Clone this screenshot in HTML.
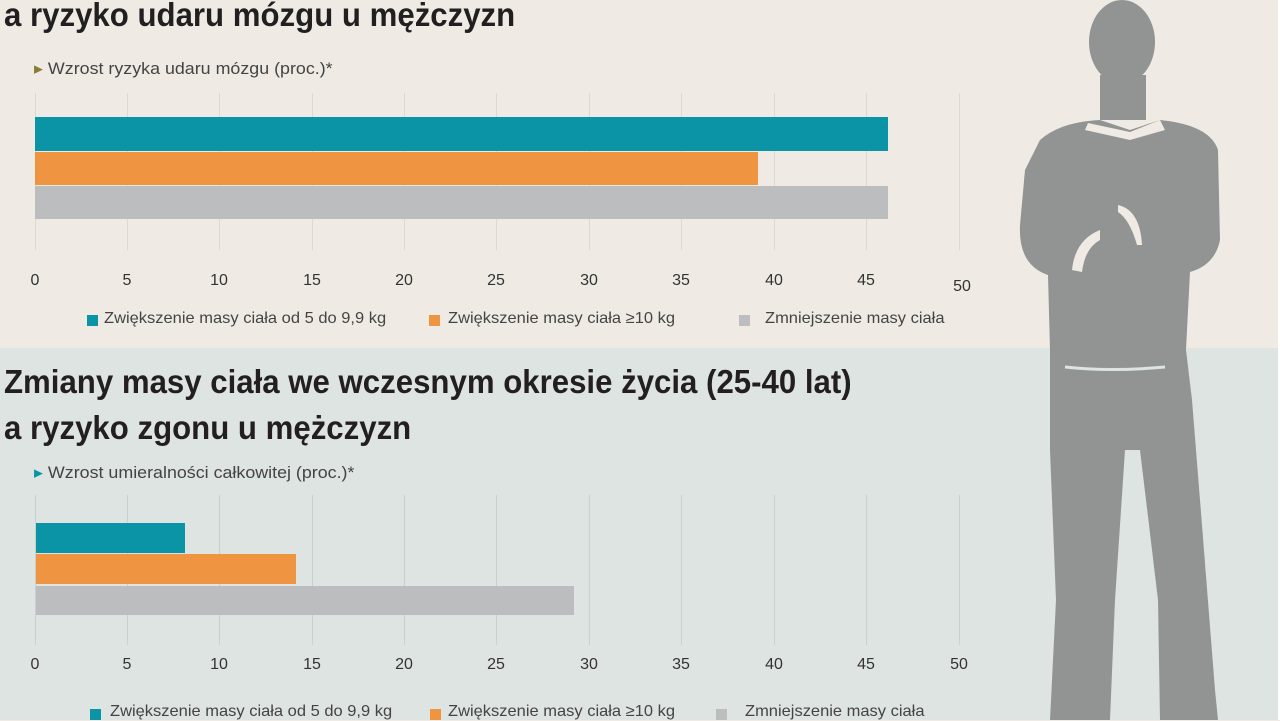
<!DOCTYPE html>
<html><head><meta charset="utf-8"><style>
body{margin:0;width:1280px;height:720px;overflow:hidden;position:relative;font-family:"Liberation Sans",sans-serif;background:#efebe4}
.a{position:absolute;white-space:nowrap}
.t{font-weight:bold;font-size:33px;color:#231f20;transform-origin:0 0;transform:scaleX(0.945)}
.s{font-size:17px;color:#444;transform-origin:0 0;transform:scaleX(1.05)}
.n{font-size:16px;color:#333;transform:translateX(-50%)}
.g{position:absolute;width:1px;background:#ddd8d0}
.b{position:absolute}
.l{font-size:16px;color:#444;transform-origin:0 0;transform:scaleX(1.03)}
.q{position:absolute;width:11px;height:11px}
</style></head><body>
<div class="a" style="left:0;top:348px;width:1280px;height:372px;background:#dde4e1"></div>
<div class="a" style="left:1278px;top:0;width:2px;height:720px;background:#fff"></div>

<div class="a t" style="left:4px;top:-4px">a ryzyko udaru mózgu u mężczyzn</div>
<div class="a s" style="left:34px;top:59px"><span style="color:#8a7a3a">▸</span> Wzrost ryzyka udaru mózgu (proc.)*</div>
<div class="g" style="left:35px;top:93px;height:157px"></div><div class="g" style="left:127px;top:93px;height:157px"></div><div class="g" style="left:219px;top:93px;height:157px"></div><div class="g" style="left:312px;top:93px;height:157px"></div><div class="g" style="left:404px;top:93px;height:157px"></div><div class="g" style="left:496px;top:93px;height:157px"></div><div class="g" style="left:589px;top:93px;height:157px"></div><div class="g" style="left:681px;top:93px;height:157px"></div><div class="g" style="left:774px;top:93px;height:157px"></div><div class="g" style="left:866px;top:93px;height:157px"></div><div class="g" style="left:959px;top:93px;height:157px"></div>
<div class="b" style="left:35px;top:117px;width:853px;height:34px;background:#0b93a6"></div>
<div class="b" style="left:35px;top:152px;width:723px;height:33px;background:#ef9440"></div>
<div class="b" style="left:35px;top:186px;width:853px;height:33px;background:#bcbdbf"></div>
<div class="a n" style="left:35px;top:272px">0</div><div class="a n" style="left:127px;top:272px">5</div><div class="a n" style="left:219px;top:272px">10</div><div class="a n" style="left:312px;top:272px">15</div><div class="a n" style="left:404px;top:272px">20</div><div class="a n" style="left:496px;top:272px">25</div><div class="a n" style="left:589px;top:272px">30</div><div class="a n" style="left:681px;top:272px">35</div><div class="a n" style="left:774px;top:272px">40</div><div class="a n" style="left:866px;top:272px">45</div><div class="a n" style="left:962px;top:278px">50</div>
<div class="q" style="left:87px;top:315px;background:#0b93a6"></div><div class="a l" style="left:104px;top:310px">Zwiększenie masy ciała od 5 do 9,9 kg</div>
<div class="q" style="left:429px;top:315px;background:#ef9440"></div><div class="a l" style="left:448px;top:310px">Zwiększenie masy ciała ≥10 kg</div>
<div class="q" style="left:739px;top:315px;background:#bcbdbf"></div><div class="a l" style="left:765px;top:310px">Zmniejszenie masy ciała</div>

<div class="a t" style="left:4px;top:363px">Zmiany masy ciała we wczesnym okresie życia (25-40 lat)</div>
<div class="a t" style="left:4px;top:409px">a ryzyko zgonu u mężczyzn</div>
<div class="a s" style="left:34px;top:463px"><span style="color:#0b93a6">▸</span> Wzrost umieralności całkowitej (proc.)*</div>
<div class="g" style="left:35px;top:495px;height:150px;background:#c9d1ce"></div><div class="g" style="left:127px;top:495px;height:150px;background:#c9d1ce"></div><div class="g" style="left:219px;top:495px;height:150px;background:#c9d1ce"></div><div class="g" style="left:312px;top:495px;height:150px;background:#c9d1ce"></div><div class="g" style="left:404px;top:495px;height:150px;background:#c9d1ce"></div><div class="g" style="left:496px;top:495px;height:150px;background:#c9d1ce"></div><div class="g" style="left:589px;top:495px;height:150px;background:#c9d1ce"></div><div class="g" style="left:681px;top:495px;height:150px;background:#c9d1ce"></div><div class="g" style="left:774px;top:495px;height:150px;background:#c9d1ce"></div><div class="g" style="left:866px;top:495px;height:150px;background:#c9d1ce"></div><div class="g" style="left:959px;top:495px;height:150px;background:#c9d1ce"></div>
<div class="b" style="left:36px;top:523px;width:149px;height:30px;background:#0b93a6"></div>
<div class="b" style="left:36px;top:554px;width:260px;height:30px;background:#ef9440"></div>
<div class="b" style="left:36px;top:586px;width:538px;height:29px;background:#bcbdbf"></div>
<div class="a n" style="left:35px;top:656px">0</div><div class="a n" style="left:127px;top:656px">5</div><div class="a n" style="left:219px;top:656px">10</div><div class="a n" style="left:312px;top:656px">15</div><div class="a n" style="left:404px;top:656px">20</div><div class="a n" style="left:496px;top:656px">25</div><div class="a n" style="left:589px;top:656px">30</div><div class="a n" style="left:681px;top:656px">35</div><div class="a n" style="left:774px;top:656px">40</div><div class="a n" style="left:866px;top:656px">45</div><div class="a n" style="left:959px;top:656px">50</div>
<div class="q" style="left:90px;top:709px;background:#0b93a6"></div><div class="a l" style="left:110px;top:703px">Zwiększenie masy ciała od 5 do 9,9 kg</div>
<div class="q" style="left:430px;top:709px;background:#ef9440"></div><div class="a l" style="left:448px;top:703px">Zwiększenie masy ciała ≥10 kg</div>
<div class="q" style="left:716px;top:709px;background:#bcbdbf"></div><div class="a l" style="left:745px;top:703px">Zmniejszenie masy ciała</div>

<svg class="a" style="left:0;top:0" width="1280" height="720">
<g fill="#929494">
<ellipse cx="1122" cy="42" rx="33" ry="42"/>
<rect x="1100" y="75" width="46" height="45"/>
<path d="M1040 140 Q1060 122 1100 120 L1130 130 L1160 120 Q1210 125 1218 150 L1220 240 Q1215 265 1190 272 L1186 350 L1192 400 L1200 500 L1215 690 L1218 720 L1160 720 L1158 600 L1140 450 L1125 450 L1115 600 L1110 720 L1050 720 L1056 600 L1050 450 L1050 350 L1048 275 Q1018 265 1020 225 L1025 170 Z"/>
</g>
<g fill="#efebe4">
<path d="M1118 205 Q1140 210 1142 245 L1137 245 Q1130 220 1118 212 Z"/>
<path d="M1100 230 Q1075 240 1072 270 L1082 272 Q1085 248 1100 240 Z"/>
<path d="M1088 123 L1130 132 L1160 120 L1165 130 L1130 140 L1085 130 Z"/>
</g>
<path d="M1065 367 Q1110 372 1165 367" stroke="#dde4e1" stroke-width="3" fill="none"/>
</svg>
</body></html>
